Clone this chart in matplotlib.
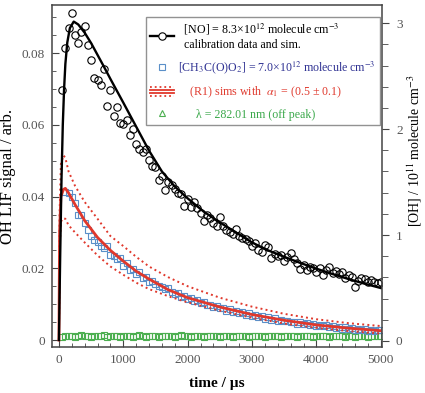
import numpy as np
import matplotlib
matplotlib.use("Agg")
import matplotlib.pyplot as plt
from matplotlib.lines import Line2D
from matplotlib.legend_handler import HandlerBase
from matplotlib.ticker import MultipleLocator

plt.rcParams['font.family'] = ['Liberation Serif', 'DejaVu Serif']
plt.rcParams['mathtext.fontset'] = 'stix'

# %% data
# NO calibration: measured points and simulation
no_t = np.arange(50, 5001, 50)
no_data = [0.0697, 0.0813, 0.0869, 0.0913, 0.0850, 0.0827, 0.0860, 0.0877, 0.0824, 0.0782,
           0.0732, 0.0725, 0.0711, 0.0755, 0.0652, 0.0697, 0.0624, 0.0649, 0.0606, 0.0602,
           0.0613, 0.0571, 0.0588, 0.0546, 0.0532, 0.0525, 0.0532, 0.0502, 0.0486, 0.0483,
           0.0446, 0.0457, 0.0418, 0.0441, 0.0432, 0.0422, 0.0411, 0.0408, 0.0374, 0.0392,
           0.0371, 0.0386, 0.0369, 0.0355, 0.0333, 0.0350, 0.0340, 0.0326, 0.0318, 0.0342,
           0.0318, 0.0307, 0.0302, 0.0296, 0.0310, 0.0289, 0.0285, 0.0282, 0.0276, 0.0262,
           0.0270, 0.0251, 0.0246, 0.0265, 0.0260, 0.0228, 0.0240, 0.0234, 0.0236, 0.0219,
           0.0231, 0.0242, 0.0227, 0.0216, 0.0197, 0.0210, 0.0194, 0.0205, 0.0200, 0.0190,
           0.0201, 0.0181, 0.0196, 0.0205, 0.0188, 0.0193, 0.0185, 0.0190, 0.0172, 0.0180,
           0.0175, 0.0149, 0.0166, 0.0172, 0.0169, 0.0163, 0.0168, 0.0163, 0.0160, 0.0163]

no_sim_t = [0, 20, 40, 60, 80, 100, 130, 170, 230, 300, 400, 500, 600, 700, 800, 900, 1000,
            1200, 1400, 1600, 1800, 2000, 2250, 2500, 2750, 3000, 3250, 3500, 3750, 4000,
            4250, 4500, 4750, 5000]
no_sim = [0, 0.024, 0.045, 0.060, 0.070, 0.077, 0.083, 0.087, 0.0888, 0.0880, 0.0857, 0.0828,
          0.0795, 0.0762, 0.0728, 0.0695, 0.0662, 0.0595, 0.0528, 0.0470, 0.0428, 0.0395,
          0.0358, 0.0328, 0.0300, 0.0272, 0.0250, 0.0232, 0.0215, 0.0199, 0.0184, 0.0170,
          0.0157, 0.0145]

# CH3C(O)O2 measured points
acyl_t = np.arange(100, 5001, 50)
acyl_data = [0.0412, 0.0410, 0.0400, 0.0381, 0.0350, 0.0349, 0.0325, 0.0307, 0.0290, 0.0279,
             0.0274, 0.0262, 0.0256, 0.0262, 0.0238, 0.0235, 0.0226, 0.0228, 0.0207, 0.0214,
             0.0196, 0.0199, 0.0184, 0.0189, 0.0174, 0.0176, 0.0161, 0.0166, 0.0155, 0.0150,
             0.0148, 0.0141, 0.0146, 0.0133, 0.0129, 0.0132, 0.0120, 0.0124, 0.0115, 0.0118,
             0.0108, 0.0111, 0.0102, 0.0106, 0.0097, 0.0099, 0.0092, 0.0096, 0.0088, 0.0089,
             0.0082, 0.0086, 0.0079, 0.0081, 0.0075, 0.0078, 0.0070, 0.0074, 0.0067, 0.0071,
             0.0064, 0.0066, 0.0060, 0.0063, 0.0057, 0.0061, 0.0054, 0.0056, 0.0052, 0.0054,
             0.0049, 0.0051, 0.0046, 0.0049, 0.0044, 0.0047, 0.0042, 0.0044, 0.0040, 0.0043,
             0.0038, 0.0041, 0.0036, 0.0039, 0.0033, 0.0036, 0.0032, 0.0035, 0.0031, 0.0033,
             0.0029, 0.0031, 0.0027, 0.0030, 0.0026, 0.0028, 0.0025, 0.0027, 0.0028]

# (R1) simulations, alpha1 = 0.5, 0.6, 0.4
r1_t = [0, 10, 30, 70, 100, 150, 250, 400, 600, 800, 1000, 1200, 1400, 1700, 2000, 2500,
        3000, 3500, 4000, 4500, 5000]
r1_mid = [0, 0.030, 0.040, 0.0420, 0.0423, 0.0410, 0.0378, 0.0333, 0.0286, 0.0250, 0.0220,
          0.0192, 0.0170, 0.0140, 0.0118, 0.0092, 0.0071, 0.0055, 0.0042, 0.0033, 0.0026]
r1_high = [0, 0.035, 0.049, 0.0515, 0.0508, 0.0470, 0.0430, 0.0385, 0.0338, 0.0290, 0.0262,
           0.0232, 0.0205, 0.0175, 0.0150, 0.0118, 0.0093, 0.0073, 0.0058, 0.0047, 0.0039]
r1_low = [0, 0.025, 0.033, 0.0340, 0.0338, 0.0320, 0.0300, 0.0272, 0.0236, 0.0205, 0.0182,
          0.0160, 0.0142, 0.0122, 0.0105, 0.0082, 0.0062, 0.0046, 0.0034, 0.0025, 0.0018]

# off-peak background
off_t = np.arange(50, 5001, 50)
off_data = [0.0009, 0.0011, 0.0010, 0.0012, 0.0009, 0.0011, 0.0013, 0.0010, 0.0011, 0.0009,
            0.0012, 0.0010, 0.0011, 0.0013, 0.0009, 0.0010, 0.0012, 0.0011, 0.0009, 0.0011,
            0.0010, 0.0012, 0.0009, 0.0011, 0.0013, 0.0010, 0.0009, 0.0011, 0.0012, 0.0010,
            0.0009, 0.0011, 0.0010, 0.0012, 0.0011, 0.0009, 0.0010, 0.0013, 0.0011, 0.0010,
            0.0009, 0.0012, 0.0010, 0.0011, 0.0009, 0.0010, 0.0012, 0.0011, 0.0010, 0.0009,
            0.0011, 0.0010, 0.0012, 0.0009, 0.0011, 0.0010, 0.0012, 0.0011, 0.0009, 0.0010,
            0.0011, 0.0012, 0.0010, 0.0009, 0.0011, 0.0010, 0.0012, 0.0010, 0.0009, 0.0011,
            0.0010, 0.0012, 0.0011, 0.0009, 0.0010, 0.0011, 0.0012, 0.0010, 0.0009, 0.0011,
            0.0010, 0.0011, 0.0012, 0.0009, 0.0010, 0.0011, 0.0010, 0.0012, 0.0009, 0.0011,
            0.0010, 0.0009, 0.0011, 0.0012, 0.0010, 0.0009, 0.0011, 0.0010, 0.0012, 0.0010]

labels = ['  [NO] = 8.3\u00d710$^{12}$ molecule cm$^{-3}$\n  calibration data and sim.',
          '[CH$_3$C(O)O$_2$] = 7.0\u00d710$^{12}$ molecule cm$^{-3}$',
          '    (R1) sims with  $\\alpha_1$ = (0.5 \u00b1 0.1)',
          '      \u03bb = 282.01 nm (off peak)']
label_colors = ['black', '#2e3192', '#e03a2e', '#3aa84a']

RED = '#e0382c'
BLUE = '#5a8fc8'
GREEN = '#4caf50'
AX_COL = '#444444'


class HandlerBand(HandlerBase):
    # dotted / solid / solid / dotted stack for the sims legend entry
    def create_artists(self, legend, orig_handle, xdescent, ydescent, width, height, fontsize, trans):
        arts = []
        for frac, ls in [(1.0, ':'), (0.58, '-'), (0.32, '-'), (-0.1, ':')]:
            y = height * frac - ydescent
            ln = Line2D([-xdescent, width - xdescent], [y, y], color=RED, ls=ls, lw=1.3)
            ln.set_transform(trans)
            arts.append(ln)
        return arts


# %% figure
fig = plt.figure(figsize=(4.25, 3.93), dpi=100)
ax = fig.add_axes([0.122, 0.117, 0.777, 0.870])

ax.plot(off_t, off_data, ls='none', marker='s', ms=4.5, mfc='none', mec=GREEN, mew=0.8)
ax.plot(acyl_t, acyl_data, ls='none', marker='s', ms=4.5, mfc='none', mec=BLUE, mew=0.8)
ax.plot(r1_t, r1_high, color=RED, ls=':', lw=1.4)
ax.plot(r1_t, r1_low, color=RED, ls=':', lw=1.4)
ax.plot(r1_t, r1_mid, color=RED, lw=2.0)
ax.plot(no_t, no_data, ls='none', marker='o', ms=5.3, mfc='none', mec='black', mew=0.8)
ax.plot(no_sim_t, no_sim, color='black', lw=1.7)

ax.set_xlim(-110, 5020)
ax.set_ylim(-0.00195, 0.0934)
ax.xaxis.set_major_locator(MultipleLocator(1000))
ax.xaxis.set_minor_locator(MultipleLocator(200))
ax.yaxis.set_major_locator(MultipleLocator(0.02))
ax.yaxis.set_minor_locator(MultipleLocator(0.005))
ax.yaxis.set_major_formatter(plt.FuncFormatter(lambda v, p: '0' if abs(v) < 1e-9 else '%g' % v))
ax.tick_params(which='both', direction='in', top=False, right=False, colors=AX_COL,
               labelsize=9.5, labelcolor='#555555')
ax.tick_params(which='major', length=5, pad=5)
ax.tick_params(which='minor', length=3)
for s in ax.spines.values():
    s.set_color(AX_COL)
    s.set_linewidth(1.1)
ax.set_xlabel('time / µs', fontsize=11, fontweight='bold')
ax.xaxis.set_label_coords(0.5, -0.088)
ax.set_ylabel('OH LIF signal / arb.', fontsize=12)
ax.yaxis.set_label_coords(-0.108, 0.5)

ax2 = ax.twinx()
ax2.set_ylim(-0.057, 3.17)
ax2.yaxis.set_major_locator(MultipleLocator(1))
ax2.yaxis.set_minor_locator(MultipleLocator(0.2))
ax2.tick_params(which='both', direction='out', colors=AX_COL, labelsize=9.5, labelcolor='#555555')
ax2.tick_params(which='major', length=5, pad=5)
ax2.tick_params(which='minor', length=4)
for s in ax2.spines.values():
    s.set_visible(False)
ax2.set_ylabel('[OH] / 10$^{11}$ molecule cm$^{-3}$', fontsize=10)
ax2.yaxis.set_label_coords(1.07, 0.575)

handles = [Line2D([], [], color='black', lw=1.7, marker='o', ms=5.3, mfc='white', mec='black', mew=0.8),
           Line2D([], [], ls='none', marker='s', ms=4, mfc='none', mec=BLUE, mew=0.8),
           Line2D([], [], color=RED),
           Line2D([], [], ls='none', marker='^', ms=4.5, mfc='none', mec=GREEN, mew=0.8)]
leg = ax.legend(handles, labels, loc='upper right', bbox_to_anchor=(0.994, 0.966),
                borderaxespad=0, fontsize=8.6, frameon=True, fancybox=False,
                edgecolor='#777777', handlelength=2.0, handletextpad=0.3,
                labelspacing=0.72, borderpad=0.4,
                handler_map={handles[2]: HandlerBand()})
leg.get_frame().set_linewidth(1.0)
for txt, c in zip(leg.get_texts(), label_colors):
    txt.set_color(c)

fig.savefig('out.png', dpi=100)
